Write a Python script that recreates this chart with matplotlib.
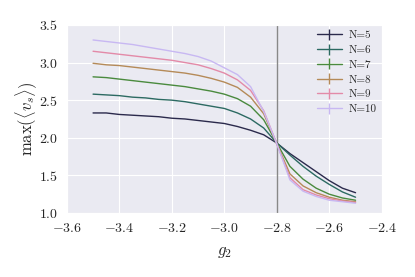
import numpy as np
import matplotlib
matplotlib.use('Agg')
from matplotlib import pyplot as plt
import seaborn as sns

# ############################################## DANE ################################################################ #
g2 = [-3.5, -3.45, -3.4, -3.35, -3.3, -3.25, -3.2, -3.15, -3.1, -3.05, -3.0,
      -2.95, -2.9, -2.85, -2.8, -2.75, -2.7, -2.65, -2.6, -2.55, -2.5]

n_labels = ['N=5', 'N=6', 'N=7', 'N=8', 'N=9', 'N=10']

vs_n5 = [2.33, 2.33, 2.31, 2.30, 2.29, 2.28, 2.26, 2.25, 2.23, 2.21, 2.19,
         2.15, 2.10, 2.04, 1.93, 1.79, 1.67, 1.55, 1.43, 1.33, 1.27]
vs_n6 = [2.58, 2.57, 2.56, 2.54, 2.53, 2.51, 2.50, 2.48, 2.45, 2.42, 2.39,
         2.33, 2.25, 2.13, 1.93, 1.77, 1.62, 1.49, 1.38, 1.28, 1.21]
vs_n7 = [2.81, 2.80, 2.78, 2.76, 2.74, 2.72, 2.70, 2.68, 2.65, 2.62, 2.58,
         2.52, 2.42, 2.24, 1.93, 1.62, 1.45, 1.33, 1.25, 1.20, 1.17]
vs_n8 = [2.99, 2.97, 2.96, 2.94, 2.92, 2.90, 2.88, 2.86, 2.83, 2.79, 2.74,
         2.67, 2.54, 2.32, 1.92, 1.52, 1.36, 1.27, 1.21, 1.17, 1.15]
vs_n9 = [3.15, 3.13, 3.11, 3.09, 3.07, 3.05, 3.03, 3.00, 2.97, 2.92, 2.86,
         2.77, 2.63, 2.36, 1.92, 1.47, 1.31, 1.24, 1.19, 1.16, 1.14]
vs_n10 = [3.30, 3.28, 3.26, 3.24, 3.21, 3.18, 3.15, 3.12, 3.08, 3.02, 2.93,
          2.84, 2.68, 2.35, 1.92, 1.44, 1.29, 1.22, 1.17, 1.15, 1.13]

series = [vs_n5, vs_n6, vs_n7, vs_n8, vs_n9, vs_n10]
g2_crit = -2.8

# ############################################## STYL ################################################################ #
sns.set_style('darkgrid')
plt.rcParams['font.family'] = 'serif'
plt.rcParams['font.serif'] = ['cmr10', 'DejaVu Serif']
plt.rcParams['mathtext.fontset'] = 'cm'
plt.rcParams['axes.formatter.use_mathtext'] = True
plt.rcParams['axes.unicode_minus'] = True

# kolory (cubehelix)
colors = ['#2b2a4c', '#2c6a62', '#4a8a3e', '#b58a58', '#e38aa8', '#c8b8f2']

# ############################################## WYKRES ############################################################## #
fig = plt.figure(figsize=(4.15, 2.77), dpi=100)
ax = fig.add_axes([0.161, 0.231, 0.759, 0.679])

for vals, lab, col in zip(series, n_labels, colors):
    ax.errorbar(g2, vals, yerr=0.0, color=col, lw=1.0, label=lab)

ax.axvline(g2_crit, color='#888888', lw=1.0)

ax.set_xlim(-3.6, -2.4)
ax.set_ylim(1.0, 3.5)
ax.set_xticks([-3.6, -3.4, -3.2, -3.0, -2.8, -2.6, -2.4])
ax.set_yticks([1.0, 1.5, 2.0, 2.5, 3.0, 3.5])
ax.tick_params(labelsize=10, pad=3)
ax.set_xlabel(r'$g_2$', fontsize=12, labelpad=7)
ax.set_ylabel(r'$\max(\langle v_s\rangle)$', fontsize=12, labelpad=0)

ax.legend(loc='upper right', fontsize=8, frameon=False, handlelength=2.2,
          labelspacing=0.45, borderaxespad=0.1, handletextpad=0.6)

fig.savefig('out.png', dpi=100)
